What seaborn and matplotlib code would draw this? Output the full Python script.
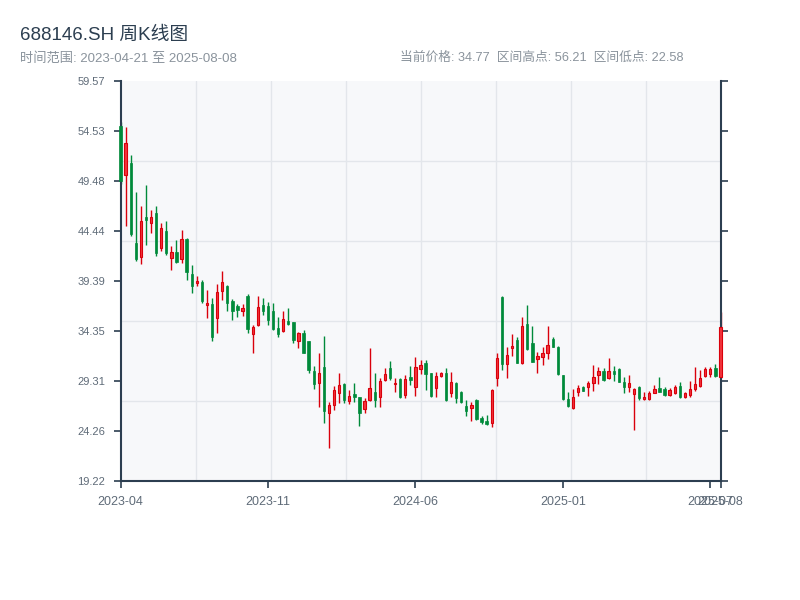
import numpy as np
import pandas as pd
import matplotlib
matplotlib.use("Agg")
import matplotlib.pyplot as plt
import seaborn as sns

# ---- data (weekly OHLC) ----
open_ = [55.0, 50.09, 51.3, 43.2, 41.85, 45.88, 45.28, 46.3, 42.69, 44.44,
         41.69, 42.35, 41.58, 43.6, 40.1, 39.16, 39.3, 36.97, 37.1, 35.7,
         38.39, 38.9, 37.4, 36.9, 36.4, 37.9, 34.02, 34.96, 36.97, 36.9,
         36.40, 34.62, 34.38, 35.36, 35.26, 33.37, 34.18, 33.3, 30.35, 29.07,
         30.69, 26.11, 26.89, 28.07, 28.97, 27.32, 28.0, 27.66, 26.45, 27.39,
         28.20, 27.66, 29.41, 30.59, 28.97, 29.48, 27.89, 29.68, 28.67, 30.49,
         31.09, 30.1, 28.57, 29.84, 30.15, 28.13, 29.08, 28.23, 26.79, 26.55,
         27.39, 25.54, 25.30, 25.10, 29.58, 37.81, 31.02, 32.67, 33.44, 31.16,
         35.1, 33.11, 31.50, 31.76, 32.10, 33.54, 32.77, 29.9, 27.46, 26.55,
         28.23, 28.7, 28.67, 29.07, 29.91, 30.35, 29.64, 30.35, 30.49, 29.24,
         28.67, 27.97, 28.67, 27.49, 27.49, 28.13, 28.57, 28.47, 27.89, 28.13,
         28.80, 27.72, 27.89, 28.47, 28.80, 29.81, 30.01, 30.59, 29.74]
high = [55.4, 54.96, 52.1, 48.4, 46.96, 49.08, 46.56, 47.0, 45.28, 45.48,
        42.93, 43.53, 44.54, 43.7, 41.0, 39.9, 39.5, 38.49, 37.65, 39.1,
        40.40, 39.0, 37.58, 37.08, 37.08, 38.08, 34.96, 37.88, 37.65, 37.25,
        37.15, 35.73, 36.37, 36.67, 35.3, 34.25, 34.45, 33.37, 30.82, 32.16,
        33.85, 27.22, 28.80, 30.15, 29.08, 28.40, 29.14, 27.72, 27.56, 32.61,
        30.08, 29.58, 30.59, 31.33, 29.58, 29.64, 29.91, 30.82, 31.76, 31.43,
        31.43, 30.15, 30.25, 30.25, 30.59, 30.22, 29.21, 28.33, 27.39, 27.22,
        27.52, 25.81, 25.88, 28.50, 32.10, 37.85, 32.77, 34.05, 33.78, 35.73,
        36.97, 34.86, 32.26, 32.77, 34.86, 33.78, 32.84, 29.95, 28.2, 28.47,
        28.90, 28.80, 29.31, 30.92, 30.75, 30.59, 31.60, 30.82, 30.59, 29.68,
        29.91, 28.63, 28.80, 28.23, 28.30, 28.90, 29.68, 28.67, 28.57, 28.90,
        29.24, 28.23, 29.31, 30.75, 30.42, 30.75, 30.75, 31.02, 36.30]
low = [49.2, 44.97, 43.9, 41.4, 41.11, 43.03, 44.21, 41.9, 42.42, 41.99,
       40.50, 41.2, 41.24, 39.5, 38.2, 38.9, 37.2, 35.69, 33.3, 34.1,
       37.48, 36.4, 35.46, 35.8, 35.87, 34.1, 32.16, 34.89, 35.96, 35.0,
       34.45, 33.72, 34.25, 34.96, 33.11, 32.67, 32.10, 30.15, 28.47, 26.71,
       25.10, 22.58, 26.38, 27.12, 27.12, 26.99, 27.22, 24.77, 26.11, 27.29,
       26.65, 26.71, 29.34, 29.41, 28.23, 27.6, 27.62, 28.90, 27.79, 30.01,
       28.40, 27.72, 27.72, 29.68, 27.32, 27.72, 27.06, 27.06, 25.78, 25.30,
       25.37, 24.94, 24.87, 24.70, 28.80, 30.42, 29.61, 31.83, 31.1, 31.02,
       32.43, 31.2, 30.08, 30.92, 31.50, 32.7, 29.91, 27.39, 26.71, 26.48,
       27.79, 28.3, 27.79, 28.33, 28.97, 29.34, 29.48, 29.34, 29.2, 28.13,
       28.23, 24.36, 27.39, 27.39, 27.39, 28.07, 28.2, 27.82, 27.82, 27.97,
       27.56, 27.62, 27.72, 28.33, 28.67, 29.68, 29.74, 29.74, 29.58]
close = [49.5, 53.29, 44.1, 41.6, 45.45, 45.55, 45.82, 42.2, 44.77, 42.19,
         42.32, 41.34, 43.63, 40.3, 38.9, 39.4, 37.4, 37.13, 33.7, 38.3,
         39.33, 37.2, 36.4, 36.5, 36.7, 34.6, 34.72, 36.81, 36.4, 35.5,
         34.52, 34.05, 35.53, 35.06, 33.44, 34.12, 32.16, 30.42, 29.0, 30.08,
         26.31, 26.89, 28.40, 28.90, 27.39, 27.79, 27.66, 26.11, 27.29, 28.57,
         27.39, 29.34, 30.01, 29.58, 29.14, 27.72, 29.48, 29.41, 30.75, 30.92,
         30.01, 27.79, 29.81, 30.08, 27.39, 29.21, 27.56, 27.22, 26.31, 26.89,
         25.44, 25.20, 24.97, 28.40, 31.60, 31.02, 31.93, 32.87, 31.16, 34.86,
         32.5, 31.26, 31.83, 32.16, 32.94, 32.75, 30.01, 27.46, 26.79, 27.72,
         28.63, 28.33, 29.07, 29.68, 30.35, 29.41, 30.35, 30.01, 29.24, 28.67,
         29.14, 28.47, 27.56, 27.72, 28.07, 28.47, 28.23, 27.89, 28.40, 28.73,
         27.72, 28.07, 28.47, 29.0, 29.58, 30.49, 30.49, 29.81, 34.77]

xtick_idx = [0, 29, 58, 87, 116, 118]
xtick_labels = ["2023-04", "2023-11", "2024-06", "2025-01", "2025-07", "2025-08"]
y_min, y_max = 19.22, 59.57

title = "688146.SH 周K线图"
subtitle = "时间范围: 2023-04-21 至 2025-08-08"
stats_text = "当前价格: 34.77  区间高点: 56.21  区间低点: 22.58"

# ---- style ----
sns.set_style("white")
plt.rcParams['font.family'] = ['Liberation Sans', 'Noto Sans CJK SC', 'DejaVu Sans']

df = pd.DataFrame({"open": open_, "high": high, "low": low, "close": close})
df["idx"] = np.arange(len(df))
df["up"] = df["close"] >= df["open"]

UP_EDGE = "#d9000b"
UP_FACE = "#f2343c"
DOWN = "#008a3a"
SPINE = "#2c3e50"
GRID = "#e3e6eb"
TXT = "#5f6b78"

fig = plt.figure(figsize=(8, 6), dpi=100)
ax = fig.add_axes([120.5 / 800, 119 / 600, 600 / 800, 400 / 600])
ax.set_facecolor("#f7f8fa")
n = len(df)
ax.set_xlim(0, n - 1)
ax.set_ylim(y_min, y_max)

# grid
for k in range(1, 8):
    ax.axvline((n - 1) * k / 8, color=GRID, lw=1, zorder=0)
for k in range(1, 5):
    ax.axhline(y_min + (y_max - y_min) * k / 5, color=GRID, lw=1, zorder=0)

# candles
wick_colors = np.where(df["up"], UP_EDGE, DOWN)
ax.vlines(df["idx"], df["low"], df["high"], colors=wick_colors, lw=1.0,
          zorder=2, clip_on=False)
body_bottom = np.minimum(df["open"], df["close"])
body_h = np.maximum(np.abs(df["close"] - df["open"]), 0.12)
up = df["up"].values
ax.bar(df["idx"][up], body_h[up], bottom=body_bottom[up], width=0.46,
       color=UP_FACE, edgecolor=UP_EDGE, linewidth=0.8, zorder=3, clip_on=False)
ax.bar(df["idx"][~up], body_h[~up], bottom=body_bottom[~up], width=0.46,
       color=DOWN, edgecolor=DOWN, linewidth=0.5, zorder=3, clip_on=False)

# axes / spines
for s in ["left", "bottom", "right"]:
    ax.spines[s].set_visible(True)
    ax.spines[s].set_color(SPINE)
    ax.spines[s].set_linewidth(1.5)
ax.spines["top"].set_visible(False)

yt = np.linspace(y_min, y_max, 9)
ax.set_yticks(yt)
ax.set_yticklabels([f"{v:.2f}" for v in yt])
ax.set_xticks(xtick_idx)
ax.set_xticklabels(xtick_labels)
ax.tick_params(axis="y", left=True, right=True, labelright=False, direction="out",
               length=5, width=1.2, color=SPINE, labelsize=8, labelcolor=TXT, pad=6)
ax.tick_params(axis="x", bottom=True, direction="out", length=5, width=1.2,
               color=SPINE, labelsize=9, labelcolor=TXT, pad=6)
ax.set_xlabel("")
ax.set_ylabel("")

# titles
fig.text(20 / 800, 1 - 35 / 600, title, fontsize=13.5, color=SPINE, va="center", ha="left")
fig.text(20 / 800, 1 - 58 / 600, subtitle, fontsize=9.5, color="#8a939c", va="center", ha="left")
fig.text(400 / 800, 1 - 58 / 600, stats_text, fontsize=9.2, color="#8a939c", va="center", ha="left")

fig.savefig("out.png", dpi=100)
